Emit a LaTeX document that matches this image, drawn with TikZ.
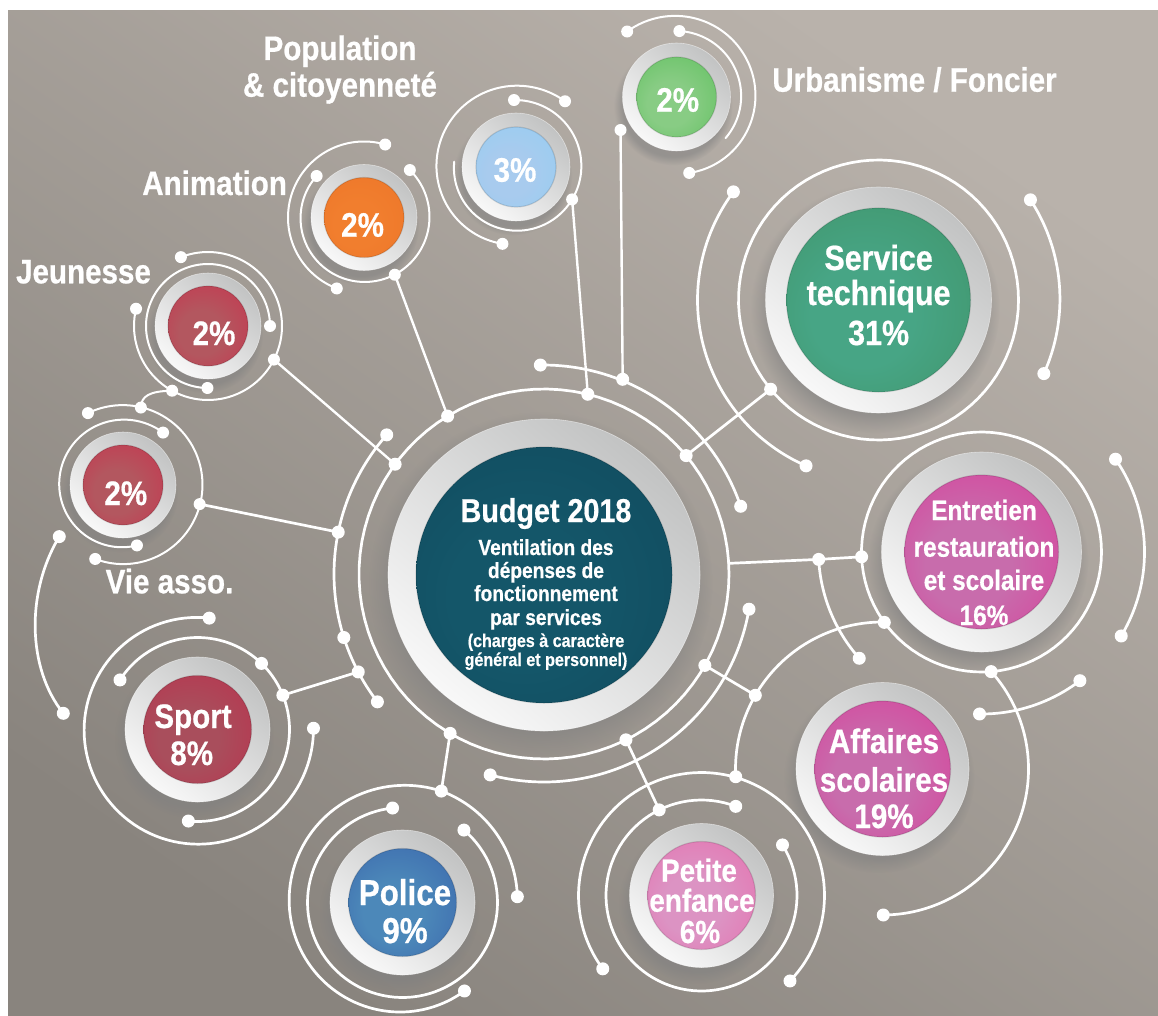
\documentclass[tikz,border=0pt]{standalone}
\usepackage{fontspec}
\newfontfamily\cf[FakeStretch=0.87, BoldFeatures={FakeBold=0.6}]{Liberation Sans}
\usetikzlibrary{shadows,calc}
\definecolor{bgT}{HTML}{B9B2AB}
\definecolor{bgB}{HTML}{89847E}
\definecolor{ringD}{HTML}{C2C3C3}
\definecolor{ringL}{HTML}{F8F8F8}
\definecolor{budIn}{HTML}{145669}
\definecolor{budOut}{HTML}{0C3F52}
\definecolor{stIn}{HTML}{47A585}
\definecolor{stOut}{HTML}{39834E}
\definecolor{mgIn}{HTML}{C86CAC}
\definecolor{mgOut}{HTML}{E6168A}
\definecolor{peIn}{HTML}{DC93C3}
\definecolor{peOut}{HTML}{EF4F9B}
\definecolor{poIn}{HTML}{4C88B9}
\definecolor{poOut}{HTML}{2944A0}
\definecolor{spIn}{HTML}{A94E5C}
\definecolor{spOut}{HTML}{CA163F}
\definecolor{rdIn}{HTML}{B3575F}
\definecolor{rdOut}{HTML}{DA133E}
\definecolor{orIn}{HTML}{F17E2E}
\definecolor{orOut}{HTML}{E96E24}
\definecolor{ltIn}{HTML}{A8CBEE}
\definecolor{ltOut}{HTML}{84D0F5}
\definecolor{grIn}{HTML}{88CC84}
\definecolor{grOut}{HTML}{3CB53D}
\colorlet{dIn}{red}\colorlet{dOut}{blue}\colorlet{dMid}{green}
\pgfdeclareradialshading[dIn,dMid,dOut]{disc}{\pgfpoint{-6bp}{-6bp}}{color(0bp)=(dIn); color(14bp)=(dIn); color(37bp)=(dMid); color(47bp)=(dOut); color(50bp)=(dOut)}
\newcommand\warc[7][]{\draw[wl,#1] plot[domain=0:1,samples=90,variable=\t] ({#2+(#4+(#6-#4)*\t)*cos(#5+(#7-#5)*\t)},{#3-(#4+(#6-#4)*\t)*sin(#5+(#7-#5)*\t)});}
\newcommand\mkpt[5]{\coordinate (#1) at ({#2+#4*cos(#5)},{#3-#4*sin(#5)});}
\newcommand\wdot[2][6.5pt]{\fill[white] (#2) circle[radius=#1];}
\newcommand\mkbutton[7]{\colorlet{dIn}{#6}\colorlet{dOut}{#7}\colorlet{dMid}{#6!55!#7}%
  \node[ring, minimum size=#4*2pt] (#1) at (#2,#3) {};%
  \node[disc, minimum size=#5*2pt] (#1d) at (#1.center) {};}
\tikzset{
  wl/.style={draw=white, line width=2.7pt, line cap=round},
  wt/.style={line width=2pt},
  ring/.style={circle, inner sep=0pt, top color=ringD, bottom color=ringL, shading angle=-40,
    draw=white, draw opacity=.5, line width=.6pt,
    circular drop shadow={shadow xshift=-3pt, shadow yshift=-8pt, opacity=.55}},
  disc/.style={circle, inner sep=0pt, shade, shading=disc, draw=black, draw opacity=.12, line width=1.2pt},
  lab/.style={text=white, anchor=base, inner sep=0pt},
  fs/.style={font=\cf\bfseries\fontsize{#1}{#1}\selectfont}
}
\begin{document}
\begin{tikzpicture}[x=1pt,y=-1pt]
\useasboundingbox (0,0) rectangle (1158,1016);
\fill[white] (0,0) rectangle (1158,1016);
\shade[top color=bgT, bottom color=bgB, shading angle=-35] (8,11) rectangle (1158,1016);

% ---------- buttons ----------
\mkbutton{cb}{544}{575}{156}{128}{budIn}{budOut}
\mkbutton{bJ}{208}{326}{53}{40}{rdIn}{rdOut}
\mkbutton{bV}{123}{485}{53}{40}{rdIn}{rdOut}
\mkbutton{bA}{364}{217.5}{53}{40}{orIn}{orOut}
\mkbutton{bPop}{516}{167}{54}{40}{ltIn}{ltOut}
\mkbutton{bU}{676.5}{97}{54}{40}{grIn}{grOut}
\mkbutton{bST}{878.5}{300}{113}{92}{stIn}{stOut}
\mkbutton{bE}{981.5}{552}{100}{77}{mgIn}{mgOut}
\mkbutton{bAS}{882.5}{769}{86.5}{68}{mgIn}{mgOut}
\mkbutton{bPE}{701.5}{895.5}{72}{54}{peIn}{peOut}
\mkbutton{bP}{402.5}{902.5}{72.5}{54}{poIn}{poOut}
\mkbutton{bS}{197.5}{729.5}{72.5}{54}{spIn}{spOut}

% ---------- central rings ----------
\warc{544}{574}{185}{0}{185}{360}
\warc{544}{574}{209}{91}{208}{19}
\warc{544}{574}{210}{138.5}{210}{217.5}
\warc{544}{574}{208}{-105}{208}{-9.75}
\mkpt{c1}{544}{574}{185}{76.3}
\mkpt{c2}{544}{574}{185}{121.4}
\mkpt{c3}{544}{574}{185}{143.6}
\mkpt{c4}{544}{574}{185}{39.8}
\mkpt{c5}{544}{574}{185}{3.3}
\mkpt{c6}{544}{574}{185}{-29.6}
\mkpt{c7}{544}{574}{185}{-63.7}
\mkpt{c8}{544}{574}{185}{-120.5}
\mkpt{t1}{544}{574}{209}{91}
\mkpt{t2}{544}{574}{210}{68}
\mkpt{t3}{544}{574}{208}{19}
\mkpt{l1}{544}{574}{210}{138.5}
\mkpt{l2}{544}{574}{210}{168.5}
\mkpt{l3}{544}{574}{210}{197.6}
\mkpt{l4}{544}{574}{210}{207.8}
\mkpt{l5}{544}{574}{210}{217.5}
\mkpt{b1}{544}{574}{208}{-105}
\mkpt{b2}{544}{574}{208}{-9.75}

% ---------- Jeunesse ----------
\warc[wt]{208}{326}{74}{166.5}{74}{471.5}
\warc[wt]{208}{326}{62}{0}{62}{269.5}
\mkpt{j1}{208}{326}{74}{166.5}
\mkpt{j2}{208}{326}{74}{241}
\mkpt{j3}{208}{326}{74}{333}
\mkpt{j4}{208}{326}{74}{471.5}
\mkpt{j5}{208}{326}{62}{0}
\mkpt{j6}{208}{326}{62}{269.5}

% ---------- Vie asso ----------
\warc[wt]{123}{485}{80}{116}{79}{-110.6}
\warc[wt]{123}{485}{66}{52.6}{62}{283}
\mkpt{v1}{123}{485}{80}{116}
\mkpt{v2}{123}{485}{79.5}{77}
\mkpt{v3}{123}{485}{79}{-14}
\mkpt{v4}{123}{485}{79}{-110.6}
\mkpt{v5}{123}{485}{66}{52.6}
\mkpt{v6}{123}{485}{62}{283}
\mkpt{vA}{123}{485}{82}{219}
\coordinate (vB) at (63.3,713.3);
\draw[wl] (vA) .. controls (26,592) and (27,668) .. (vB);
\draw[wl,wt] (j2) .. controls (150,391) and (141,396) .. (v2);

% ---------- Animation ----------
\warc[wt]{364}{217.5}{76}{73.8}{76}{249}
\warc[wt]{364}{217.5}{63}{138.8}{66}{406}
\mkpt{a1}{364}{217.5}{76}{73.8}
\mkpt{a2}{364}{217.5}{76}{249}
\mkpt{a3}{364}{217.5}{63}{138.8}
\mkpt{a4}{364}{217.5}{65}{298.3}
\mkpt{a5}{364}{217.5}{66}{406}

% ---------- Population ----------
\warc[wt]{516}{167}{82}{53.3}{78}{260}
\warc[wt]{516}{167}{67}{91.7}{62}{-185}
\mkpt{p1}{516}{167}{82}{53.3}
\mkpt{p2}{516}{167}{78}{260}
\mkpt{p3}{516}{167}{67}{91.7}
\mkpt{p4}{516}{167}{64.8}{-30}

% ---------- Urbanisme ----------
\warc[wt]{676.5}{97}{82}{127}{77}{-80.5}
\warc[wt]{676.5}{97}{66}{87.5}{64}{-40}
\mkpt{u1}{676.5}{97}{82}{127}
\mkpt{u2}{676.5}{97}{77}{-80.5}
\mkpt{u3}{676.5}{97}{66}{87.5}
\coordinate (u4) at (620.5,130);

% ---------- Service technique ----------
\warc{878.5}{300}{140}{0}{140}{360}
\warc{878.5}{300}{181}{143.3}{181}{246.4}
\warc{878.5}{300}{182}{33.4}{181}{-24}
\mkpt{s1}{878.5}{300}{140}{219.6}
\mkpt{s2}{878.5}{300}{181}{143.3}
\mkpt{s3}{878.5}{300}{181}{246.4}
\mkpt{s4}{878.5}{300}{182}{33.4}
\mkpt{s5}{878.5}{300}{181}{-24}

% ---------- Entretien ----------
\warc{981.5}{552}{120}{0}{120}{360}
\warc{981.5}{552}{163}{34.7}{163}{-31}
\warc{981.5}{552}{162}{-52.6}{162}{-90.7}
\warc{981.5}{552}{163}{182.6}{162}{221}
\mkpt{e1}{981.5}{552}{120}{182.3}
\mkpt{e2}{981.5}{552}{120}{215.9}
\mkpt{e3}{981.5}{552}{120}{-85.4}
\mkpt{e4}{981.5}{552}{163}{34.7}
\mkpt{e5}{981.5}{552}{163}{-31}
\mkpt{e6}{981.5}{552}{162}{-52.6}
\mkpt{e7}{981.5}{552}{162}{-90.7}
\mkpt{e8}{981.5}{552}{163}{182.6}
\mkpt{e9}{981.5}{552}{162}{221}

% ---------- Affaires scolaires ----------
\warc{882.5}{769}{147}{89.3}{147}{183}
\warc{882.5}{769}{146}{42.1}{146}{-89.7}
\mkpt{as1}{882.5}{769}{147}{149.9}
\mkpt{as2}{882.5}{769}{147}{183}
\mkpt{as3}{882.5}{769}{146}{-89.7}

% ---------- Petite enfance ----------
\warc{701.5}{895.5}{123}{216.6}{123}{-44}
\warc{701.5}{895.5}{95.5}{69}{95.5}{392}
\mkpt{pe1}{701.5}{895.5}{123}{216.6}
\mkpt{pe2}{701.5}{895.5}{123}{-44}
\mkpt{pe3}{701.5}{895.5}{95.5}{69}
\mkpt{pe4}{701.5}{895.5}{95.5}{116.3}
\mkpt{pe5}{701.5}{895.5}{95.5}{392}

% ---------- Police ----------
\warc{402.5}{902.5}{115}{2.9}{118}{70.8}
\warc{402.5}{902.5}{118}{70.8}{108}{305}
\warc{402.5}{902.5}{95}{96}{95}{409.7}
\mkpt{po1}{402.5}{902.5}{115}{2.9}
\mkpt{po2}{402.5}{902.5}{118}{70.8}
\mkpt{po3}{402.5}{902.5}{108}{305}
\mkpt{po4}{402.5}{902.5}{95}{96}
\mkpt{po5}{402.5}{902.5}{95}{409.7}

% ---------- Sport ----------
\warc{197.5}{729.5}{112}{84}{116}{360.6}
\warc{197.5}{729.5}{92}{147.4}{92}{-95.7}
\mkpt{so1}{197.5}{729.5}{112}{84}
\mkpt{so2}{197.5}{729.5}{116}{360.6}
\mkpt{si1}{197.5}{729.5}{92}{147.4}
\mkpt{si2}{197.5}{729.5}{92}{45.9}
\mkpt{si3}{197.5}{729.5}{92}{21.9}
\mkpt{si4}{197.5}{729.5}{92}{-95.7}

% ---------- connectors ----------
\draw[wl,line width=2.4pt] (j3) -- (c3);
\draw[wl] (v3) -- (l2);
\draw[wl,line width=2.4pt] (a4) -- (c2);
\draw[wl,line width=2.4pt] (p4) -- (c1);
\draw[wl,line width=2.4pt] (u4) -- (t2);
\draw[wl] (c4) -- (s1);
\draw[wl] (c5) -- (e8) -- (e1);
\draw[wl] (c6) -- (as1);
\draw[wl] (c7) -- (pe4);
\draw[wl] (c8) -- (po2);
\draw[wl] (si3) -- (l4);

% ---------- dots ----------
\foreach \d in {c1,c2,c3,c4,c6,c7,c8,t1,t2,t3,l1,l2,l3,l4,l5,b1,b2,
  s1,s2,s3,s4,s5,e1,e2,e3,e4,e5,e6,e7,e8,e9,as1,as2,as3,
  pe1,pe2,pe3,pe4,pe5,po1,po2,po3,po4,po5,so1,so2,si1,si2,si3,si4,vA,vB}{\wdot{\d}}
\foreach \d in {j1,j2,j3,j4,j5,j6,v1,v2,v3,v4,v5,v6,a1,a2,a3,a4,a5,p1,p2,p3,p4,u1,u2,u3,u4}{\wdot[6pt]{\d}}

% ---------- texts ----------
\node[lab,fs=34] (tPop1) at (340,60) {Population};
\node[lab,fs=34] (tPop2) at (340,96.7) {\& citoyenneté};
\node[lab,fs=34] (tUrb) at (914.5,91.7) {Urbanisme / Foncier};
\node[lab,fs=34] (tAni) at (214.6,195) {Animation};
\node[lab,fs=34] (tJeu) at (83.5,283.3) {Jeunesse};
\node[lab,fs=34] (tVie) at (169.5,593.3) {Vie asso.};

\node[lab,fs=34] (pJ) at (214,345) {2\%};
\node[lab,fs=34] (pV) at (125.8,505) {2\%};
\node[lab,fs=34] (pA) at (362.6,236.7) {2\%};
\node[lab,fs=34] (pPop) at (515,181.7) {3\%};
\node[lab,fs=34] (pU) at (677.7,111.7) {2\%};

\node[lab,fs=35] (st1) at (878.6,270) {Service};
\node[lab,fs=35] (st2) at (878.6,305) {technique};
\node[lab,fs=35] (st3) at (878.6,345) {31\%};

\node[lab,fs=28] (en1) at (984,520) {Entretien};
\node[lab,fs=28] (en2) at (984,556.7) {restauration};
\node[lab,fs=28] (en3) at (984,590) {et scolaire};
\node[lab,fs=28] (en4) at (984,625) {16\%};

\node[lab,fs=34] (af1) at (884,753) {Affaires};
\node[lab,fs=34] (af2) at (884,791.7) {scolaires};
\node[lab,fs=34] (af3) at (884,828) {19\%};

\node[lab,fs=32] (pe6) at (699,881.7) {Petite};
\node[lab,fs=32] (pe7) at (702,911.7) {enfance};
\node[lab,fs=32] (pe8) at (700,943) {6\%};

\node[lab,fs=36] (po6) at (405,905) {Police};
\node[lab,fs=36] (po7) at (405,943) {9\%};

\node[lab,fs=34] (sp1) at (193,728) {Sport};
\node[lab,fs=34] (sp2) at (191.7,765) {8\%};

\node[lab,fs=33] (bu1) at (546,522) {Budget 2018};
\node[lab,fs=22] (bu2) at (546,555) {Ventilation des};
\node[lab,fs=22] (bu3) at (546,578) {dépenses de};
\node[lab,fs=22] (bu4) at (546,601) {fonctionnement};
\node[lab,fs=22] (bu5) at (546,625) {par services};
\node[lab,fs=18.5] (bu6) at (546,647) {(charges à caractère};
\node[lab,fs=18.5] (bu7) at (546,666) {général et personnel)};
\end{tikzpicture}
\end{document}
